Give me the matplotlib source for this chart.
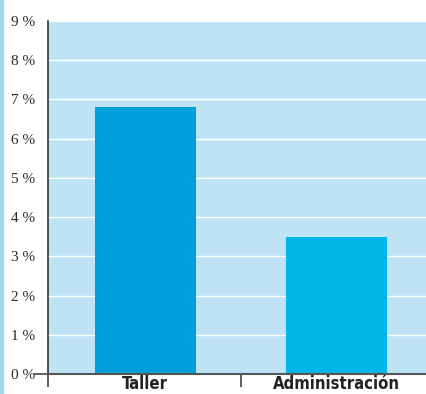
import matplotlib
matplotlib.use('Agg')
import matplotlib.pyplot as plt
from matplotlib.patches import Rectangle

categories = ['Taller', 'Administración']
values = [6.8, 3.5]
bar_colors = ['#009fdb', '#00b6e9']
yticks = list(range(0, 10))
ytick_labels = ['%d %%' % v for v in yticks]

fig = plt.figure(figsize=(4.26, 3.94), dpi=100)
fig.patches.append(Rectangle((0, 0), 3 / 426, 1, transform=fig.transFigure,
                             color='#9fd6f1', zorder=0))
ax = fig.add_axes([48 / 426, 20 / 394, 1 - 48 / 426, 353 / 394])
ax.set_facecolor('#bee3f5')

x = range(len(categories))
ax.bar(x, values, width=0.53, color=bar_colors, zorder=3)

ax.set_xlim(-0.51, 1.47)
ax.set_ylim(0, 9)
ax.set_yticks(yticks)
ax.set_yticklabels(ytick_labels, family=['Liberation Serif', 'DejaVu Serif'],
                   fontsize=11, color='#2a2a2a')
ax.yaxis.grid(True, color='white', linewidth=1.0, zorder=1)
ax.set_axisbelow(True)
ax.tick_params(axis='y', length=10, width=1.2, color='#444444', pad=-1)
for t in ax.yaxis.get_major_ticks()[1:]:
    t.tick1line.set_visible(False)

ax.set_xticks(list(x))
ax.set_xticklabels(categories, family='DejaVu Sans', fontstretch='condensed',
                   fontweight='bold', fontsize=12, color='#222222')
ax.tick_params(axis='x', length=0, pad=1)
ax.set_xticks([-0.51, 0.5], minor=True)
ax.tick_params(axis='x', which='minor', length=9, width=1.2, color='#444444')

for s in ['top', 'right']:
    ax.spines[s].set_visible(False)
ax.spines['left'].set_color('#333333')
ax.spines['left'].set_linewidth(1.2)
ax.spines['bottom'].set_color('#555555')
ax.spines['bottom'].set_linewidth(1.5)
ax.spines['bottom'].set_zorder(4)

fig.savefig('out.png', dpi=100)
